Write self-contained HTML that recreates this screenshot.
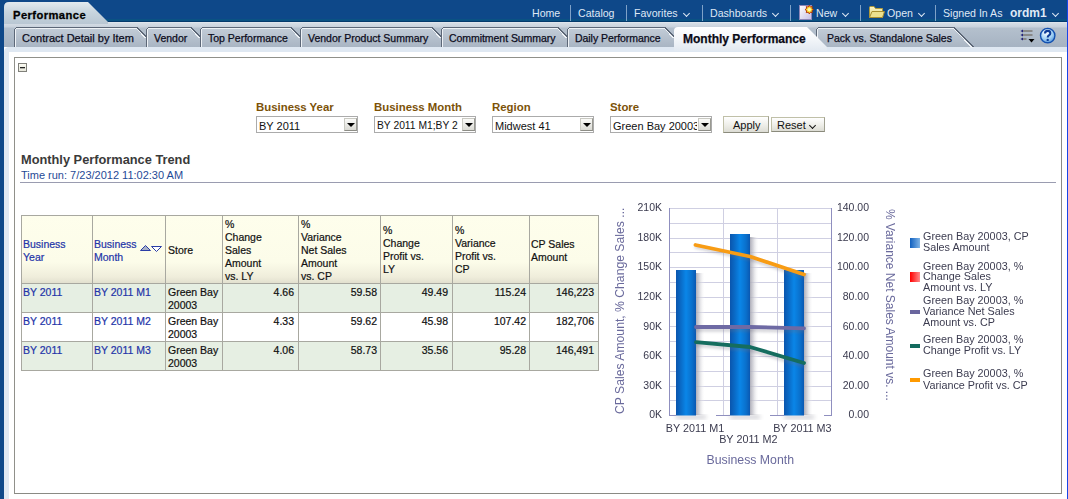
<!DOCTYPE html>
<html><head><meta charset="utf-8">
<style>
*{margin:0;padding:0;box-sizing:border-box}
html,body{width:1068px;height:499px;overflow:hidden;background:#fff;font-family:"Liberation Sans",sans-serif;font-size:12px;color:#000}
.a{position:absolute;white-space:nowrap}
#hdr{position:absolute;left:0;top:0;width:1068px;height:22px;background:linear-gradient(#0e4889 0,#0e4889 19px,#0a5283 19px,#0a5283 21px);border-bottom:1px solid #043a6c}
#lstrip{position:absolute;left:0;top:0;width:4px;height:499px;background:#0e4889}
#rstrip{position:absolute;left:1067px;top:0;width:1px;height:499px;background:#1846e8}
#tabrow{position:absolute;left:4px;top:22px;width:1063px;height:25px;background:linear-gradient(#e6ecf2 0,#d6dee6 1px,#c9d2dc 5px,#b4c0cd 6px,#a6b3c2 25px)}
#lightband{position:absolute;left:4px;top:47px;width:1063px;height:452px;background:#dfe8f2;border-top-left-radius:5px}
#content{position:absolute;left:9px;top:52px;width:1058px;height:447px;background:#fff}
#panel{position:absolute;left:14px;top:57px;width:1048px;height:437px;border:1px solid #90908a;border-right-color:#8a8a84;border-bottom-color:#8a8a84}
.nav{color:#dfe9f5;font-size:10.6px;top:7px}
.nav b{font-size:12px}
.chev{display:inline-block;width:5px;height:5px;border-right:1.4px solid #dfe9f5;border-bottom:1.4px solid #dfe9f5;transform:translateY(-1px) rotate(45deg);margin-left:6px}
.sep{position:absolute;top:5px;width:1px;height:16px;background:#7fa2c8}
.tt{position:absolute;top:32px;color:#0c0c1c;font-size:11px;white-space:nowrap;-webkit-text-stroke:0.25px #0c0c1c}
.lbl{color:#7c5208;font-weight:bold;font-size:11.4px}
.sel{position:absolute;height:17px;border:1px solid #ababab;background:#fff;font-size:11px;top:116px;overflow:hidden}
.sel span{position:absolute;left:2px;top:2px;line-height:14px;color:#111;white-space:nowrap;width:84px;overflow:hidden}
.sel i{position:absolute;right:0px;top:1px;width:13px;height:13px;background:linear-gradient(#fbfbf9,#dadad4);border:1px solid #c9c9c2;border-right-color:#9a9a92;border-bottom-color:#8d8d86}
.sel i:after{content:"";position:absolute;left:2px;top:4px;border-left:4px solid transparent;border-right:4px solid transparent;border-top:4px solid #000}
.btn{position:absolute;height:16px;border:1px solid #c0c0a8;border-bottom-color:#8a8a7c;border-right-color:#a0a090;background:linear-gradient(#ffffff,#ecece6 60%,#dcdcd4);font-size:11px;color:#111}
.tc{position:absolute;font-size:10.5px;line-height:13px;white-space:nowrap;color:#111;-webkit-text-stroke:0.2px}
.lk{color:#2334a8}
.r{text-align:right}
.gl{position:absolute;background:#a8a8a0}
.ct{position:absolute;font-family:"Liberation Sans",sans-serif;white-space:nowrap}
</style></head><body>
<div id="hdr"></div>
<div id="tabrow"></div>
<div id="lightband"></div>
<div id="content"></div>
<div id="lstrip"></div>
<div id="rstrip"></div>

<!-- Performance header tab -->
<svg class="a" style="left:4px;top:2px" width="106" height="22">
<defs><linearGradient id="pt" x1="0" y1="0" x2="0" y2="1"><stop offset="0" stop-color="#e2eaef"/><stop offset="0.45" stop-color="#c8d5de"/><stop offset="1" stop-color="#b9c7d3"/></linearGradient></defs>
<path d="M0,22 L0,5 Q0,0 5,0 L84,0 L104,20 L104,22 Z" fill="url(#pt)"/>
</svg>
<div class="a" style="left:13px;top:8.5px;font-weight:bold;font-size:11.2px;letter-spacing:0.42px;color:#000;-webkit-text-stroke:0.3px #000">Performance</div>

<!-- nav -->
<div class="a nav" style="left:532px">Home</div>
<div class="sep" style="left:570px"></div>
<div class="a nav" style="left:578px">Catalog</div>
<div class="sep" style="left:626px"></div>
<div class="a nav" style="left:634px">Favorites<span class="chev"></span></div>
<div class="sep" style="left:702px"></div>
<div class="a nav" style="left:710px">Dashboards<span class="chev"></span></div>
<div class="sep" style="left:790px"></div>
<svg class="a" style="left:798px;top:4px" width="17" height="17">
<defs><linearGradient id="pg" x1="0" y1="0" x2="1" y2="1"><stop offset="0" stop-color="#ffffff"/><stop offset="1" stop-color="#c4bee6"/></linearGradient></defs>
<rect x="1.5" y="1.5" width="12" height="14" fill="url(#pg)" stroke="#8c86b8"/>
<polygon points="11.30,1.30 10.23,3.01 8.26,2.56 8.71,4.53 7.00,5.60 8.71,6.67 8.26,8.64 10.23,8.19 11.30,9.90 12.37,8.19 14.34,8.64 13.89,6.67 15.60,5.60 13.89,4.53 14.34,2.56 12.37,3.01" fill="#ffe23a" stroke="#b02c00" stroke-width="0.9" stroke-linejoin="round"/>
<circle cx="11.3" cy="5.6" r="1.7" fill="#fffbb0"/>
</svg>
<div class="a nav" style="left:816px">New<span class="chev"></span></div>
<div class="sep" style="left:860px"></div>
<svg class="a" style="left:869px;top:5px" width="17" height="14">
<defs><linearGradient id="fg" x1="0" y1="0" x2="0" y2="1"><stop offset="0" stop-color="#fbf6c8"/><stop offset="1" stop-color="#e2d27a"/></linearGradient></defs>
<path d="M0.5,2.5 Q0.5,1.5 1.5,1.5 L5,1.5 L6.5,3.5 L13.5,3.5 L13.5,12.5 L0.5,12.5 Z" fill="url(#fg)" stroke="#b09a3a"/>
<path d="M3,6.5 L15.5,6.5 L13.5,12.5 L0.5,12.5 Z" fill="#ece08e" stroke="#a88f30"/>
</svg>
<div class="a nav" style="left:887px">Open<span class="chev"></span></div>
<div class="sep" style="left:935px"></div>
<div class="a nav" style="left:943px">Signed In As</div>
<div class="a nav" style="left:1010px;top:6px"><b>ordm1</b><span class="chev" style="margin-left:6px"></span></div>

<!-- tabs -->
<svg class="a" style="left:0;top:0" width="1068" height="52">
<defs>
<linearGradient id="tg" x1="0" y1="0" x2="0" y2="1"><stop offset="0" stop-color="#c3cdd8"/><stop offset="1" stop-color="#a9b5c3"/></linearGradient>
<linearGradient id="ag" x1="0" y1="0" x2="0" y2="1"><stop offset="0" stop-color="#ffffff"/><stop offset="0.5" stop-color="#f3f6f9"/><stop offset="1" stop-color="#e2e9f1"/></linearGradient>
</defs>
<g fill="url(#tg)">
<path d="M14.5,47 L14.5,30.5 Q14.5,27.5 17.5,27.5 L137,27.5 L146.5,37 L146.5,47 Z" stroke="none"/>
<path d="M146.5,47 L146.5,30.5 Q146.5,27.5 149.5,27.5 L191,27.5 L200.5,37 L200.5,47 Z" stroke="none"/>
<path d="M200.5,47 L200.5,30.5 Q200.5,27.5 203.5,27.5 L291,27.5 L300.5,37 L300.5,47 Z" stroke="none"/>
<path d="M300.5,47 L300.5,30.5 Q300.5,27.5 303.5,27.5 L432,27.5 L441.5,37 L441.5,47 Z" stroke="none"/>
<path d="M441.5,47 L441.5,30.5 Q441.5,27.5 444.5,27.5 L558,27.5 L567.5,37 L567.5,47 Z" stroke="none"/>
<path d="M567.5,47 L567.5,30.5 Q567.5,27.5 570.5,27.5 L665,27.5 L674.5,37 L674.5,47 Z" stroke="none"/>
<path d="M816.5,47 L816.5,30.5 Q816.5,27.5 819.5,27.5 L954,27.5 L973.5,47 Z"/>
</g>
<g fill="none" stroke="#eef2f6" stroke-width="1" shape-rendering="crispEdges">
<path d="M15.5,47 L15.5,30.5 Q15.5,28.5 17.5,28.5 L136.5,28.5 L145.5,38"/>
<path d="M147.5,47 L147.5,30.5 Q147.5,28.5 149.5,28.5 L190.5,28.5 L199.5,38"/>
<path d="M201.5,47 L201.5,30.5 Q201.5,28.5 203.5,28.5 L290.5,28.5 L299.5,38"/>
<path d="M301.5,47 L301.5,30.5 Q301.5,28.5 303.5,28.5 L431.5,28.5 L440.5,38"/>
<path d="M442.5,47 L442.5,30.5 Q442.5,28.5 444.5,28.5 L557.5,28.5 L566.5,38"/>
<path d="M568.5,47 L568.5,30.5 Q568.5,28.5 570.5,28.5 L664.5,28.5 L673.5,38"/>
<path d="M817.5,47 L817.5,30.5 Q817.5,28.5 819.5,28.5 L953.5,28.5 L972.5,48"/>
</g>
<g fill="none" stroke="#5c6777" stroke-width="1" shape-rendering="crispEdges">
<path d="M14.5,47 L14.5,30.5 Q14.5,27.5 17.5,27.5 L137,27.5 L146.5,37"/>
<path d="M146.5,47 L146.5,30.5 Q146.5,27.5 149.5,27.5 L191,27.5 L200.5,37"/>
<path d="M200.5,47 L200.5,30.5 Q200.5,27.5 203.5,27.5 L291,27.5 L300.5,37"/>
<path d="M300.5,47 L300.5,30.5 Q300.5,27.5 303.5,27.5 L432,27.5 L441.5,37"/>
<path d="M441.5,47 L441.5,30.5 Q441.5,27.5 444.5,27.5 L558,27.5 L567.5,37"/>
<path d="M567.5,47 L567.5,30.5 Q567.5,27.5 570.5,27.5 L665,27.5 L674.5,37"/>
<path d="M816.5,47 L816.5,30.5 Q816.5,27.5 819.5,27.5 L954,27.5 L973.5,47"/>
</g>
<path d="M674,51 L674,31 Q674,27 678,27 L807,27 L827,47 L827,51 Z" fill="url(#ag)"/>
</svg>
<div class="tt" style="left:22px">Contract Detail by Item</div>
<div class="tt" style="left:154px;font-size:10.5px">Vendor</div>
<div class="tt" style="left:208px;font-size:10.5px">Top Performance</div>
<div class="tt" style="left:308px;font-size:10.5px">Vendor Product Summary</div>
<div class="tt" style="left:449px;font-size:10.5px;letter-spacing:-0.05px">Commitment Summary</div>
<div class="tt" style="left:575px;font-size:10.5px;letter-spacing:-0.05px">Daily Performance</div>
<div class="tt" style="left:683px;top:32px;font-weight:bold;font-size:12px;color:#0a0a14">Monthly Performance</div>
<div class="tt" style="left:827px;font-size:10.5px">Pack vs. Standalone Sales</div>

<!-- tab row icons -->
<svg class="a" style="left:1019px;top:28px" width="18" height="16">
<g stroke="#77736e" stroke-width="1.4"><line x1="4" y1="3" x2="13.5" y2="3"/><line x1="4" y1="7" x2="13.5" y2="7"/><line x1="4" y1="11" x2="7.5" y2="11"/></g>
<g fill="#22227a"><path d="M1.5,3 L4,1.5 L4,4.5 Z"/><path d="M1.5,7 L4,5.5 L4,8.5 Z"/><path d="M1.5,11 L4,9.5 L4,12.5 Z"/></g>
<path d="M9.5,11 L15.5,11 L12.5,14.5 Z" fill="#000"/>
</svg>
<svg class="a" style="left:1039px;top:27px" width="18" height="18">
<defs><radialGradient id="hg" cx="0.4" cy="0.3" r="0.75"><stop offset="0" stop-color="#ffffff"/><stop offset="0.55" stop-color="#a6d4f6"/><stop offset="1" stop-color="#5596da"/></radialGradient></defs>
<circle cx="8.7" cy="8.6" r="7.2" fill="url(#hg)" stroke="#1250b0" stroke-width="1.4"/>
<path d="M6,6.6 Q6,3.9 8.7,3.9 Q11.3,3.9 11.3,6.2 Q11.3,7.6 9.9,8.4 Q8.7,9.1 8.7,10.4" fill="none" stroke="#0d3c98" stroke-width="2.1"/>
<circle cx="8.7" cy="12.9" r="1.2" fill="#0d3c98"/>
</svg>

<div id="panel"></div>
<svg class="a" style="left:18px;top:63px" width="10" height="10">
<defs><linearGradient id="cg" x1="0" y1="0" x2="0" y2="1"><stop offset="0" stop-color="#fbfbf3"/><stop offset="1" stop-color="#e6e6da"/></linearGradient></defs>
<rect x="0.5" y="0.5" width="8" height="8" fill="url(#cg)" stroke="#80807a"/>
<rect x="2" y="4" width="5" height="1.3" fill="#222"/>
</svg>

<!-- filters -->
<div class="a lbl" style="left:256px;top:101px">Business Year</div>
<div class="sel" style="left:256px;width:102px"><span>BY 2011</span><i></i></div>
<div class="a lbl" style="left:374px;top:101px">Business Month</div>
<div class="sel" style="left:374px;width:102px"><span style="font-size:10.3px">BY 2011 M1;BY 2</span><i></i></div>
<div class="a lbl" style="left:492px;top:101px">Region</div>
<div class="sel" style="left:492px;width:102px"><span>Midwest 41</span><i></i></div>
<div class="a lbl" style="left:610px;top:101px">Store</div>
<div class="sel" style="left:610px;width:102px"><span>Green Bay 20003</span><i></i></div>
<div class="btn" style="left:723px;top:116px;width:46px;height:17px"><span class="a" style="left:9px;top:2px">Apply</span></div>
<div class="btn" style="left:771px;top:117px;width:54px;height:15px"><span class="a" style="left:5px;top:1px">Reset</span><span class="a" style="left:38px;top:5px;width:5px;height:5px;border-right:1px solid #111;border-bottom:1px solid #111;transform:rotate(45deg)"></span></div>

<div class="a" style="left:21px;top:152px;font-weight:bold;font-size:12.8px;color:#3a3a3a">Monthly Performance Trend</div>
<div class="a" style="left:21px;top:169px;font-size:11px;color:#1f4a96">Time run: 7/23/2012 11:02:30 AM</div>
<div class="a" style="left:20px;top:182px;width:1036px;height:1px;background:#9a9cb0"></div>

<!-- table -->
<div class="a" style="left:21px;top:215px;width:578px;height:68px;background:linear-gradient(#fefeec 0,#fcfce9 47px,#efeddb 62px,#e2e0cf 68px)"></div>
<div class="a" style="left:21px;top:283px;width:578px;height:29px;background:#e6efe3"></div>
<div class="a" style="left:21px;top:341px;width:578px;height:29px;background:#e6efe3"></div>
<div class="gl" style="left:21px;top:215px;width:578px;height:1px"></div>
<div class="gl" style="left:21px;top:283px;width:578px;height:1px"></div>
<div class="gl" style="left:21px;top:312px;width:578px;height:1px"></div>
<div class="gl" style="left:21px;top:341px;width:578px;height:1px"></div>
<div class="gl" style="left:21px;top:370px;width:578px;height:1px"></div>
<div class="gl" style="left:21px;top:215px;width:1px;height:156px"></div>
<div class="gl" style="left:92px;top:215px;width:1px;height:156px"></div>
<div class="gl" style="left:165px;top:215px;width:1px;height:156px"></div>
<div class="gl" style="left:222px;top:215px;width:1px;height:156px"></div>
<div class="gl" style="left:298px;top:215px;width:1px;height:156px"></div>
<div class="gl" style="left:380px;top:215px;width:1px;height:156px"></div>
<div class="gl" style="left:452px;top:215px;width:1px;height:156px"></div>
<div class="gl" style="left:529px;top:215px;width:1px;height:156px"></div>
<div class="gl" style="left:598px;top:215px;width:1px;height:156px"></div>

<div class="tc lk" style="left:23px;top:238px">Business<br>Year</div>
<div class="tc lk" style="left:94px;top:238px">Business<br>Month</div>
<svg class="a" style="left:139px;top:245px" width="24" height="9">
<path d="M1.5,5.5 L6.5,0.5 L11.5,5.5 Z" fill="#a8b0c8" stroke="#2a3da6"/>
<path d="M12.5,1.5 L22.5,1.5 L17.5,6.5 Z" fill="#fff" stroke="#2a3da6"/>
</svg>
<div class="tc" style="left:168px;top:244px">Store</div>
<div class="tc" style="left:225px;top:218px">%<br>Change<br>Sales<br>Amount<br>vs. LY</div>
<div class="tc" style="left:301px;top:218px">%<br>Variance<br>Net Sales<br>Amount<br>vs. CP</div>
<div class="tc" style="left:383px;top:224px">%<br>Change<br>Profit vs.<br>LY</div>
<div class="tc" style="left:455px;top:224px">%<br>Variance<br>Profit vs.<br>CP</div>
<div class="tc" style="left:531px;top:238px">CP Sales<br>Amount</div>

<div class="tc lk" style="left:23px;top:286px">BY 2011</div>
<div class="tc lk" style="left:94px;top:286px">BY 2011 M1</div>
<div class="tc" style="left:168px;top:286px">Green Bay<br>20003</div>
<div class="tc r" style="left:222px;top:286px;width:72px">4.66</div>
<div class="tc r" style="left:298px;top:286px;width:79px">59.58</div>
<div class="tc r" style="left:380px;top:286px;width:68px">49.49</div>
<div class="tc r" style="left:452px;top:286px;width:74px">115.24</div>
<div class="tc r" style="left:529px;top:286px;width:65px">146,223</div>

<div class="tc lk" style="left:23px;top:315px">BY 2011</div>
<div class="tc lk" style="left:94px;top:315px">BY 2011 M2</div>
<div class="tc" style="left:168px;top:315px">Green Bay<br>20003</div>
<div class="tc r" style="left:222px;top:315px;width:72px">4.33</div>
<div class="tc r" style="left:298px;top:315px;width:79px">59.62</div>
<div class="tc r" style="left:380px;top:315px;width:68px">45.98</div>
<div class="tc r" style="left:452px;top:315px;width:74px">107.42</div>
<div class="tc r" style="left:529px;top:315px;width:65px">182,706</div>

<div class="tc lk" style="left:23px;top:344px">BY 2011</div>
<div class="tc lk" style="left:94px;top:344px">BY 2011 M3</div>
<div class="tc" style="left:168px;top:344px">Green Bay<br>20003</div>
<div class="tc r" style="left:222px;top:344px;width:72px">4.06</div>
<div class="tc r" style="left:298px;top:344px;width:79px">58.73</div>
<div class="tc r" style="left:380px;top:344px;width:68px">35.56</div>
<div class="tc r" style="left:452px;top:344px;width:74px">95.28</div>
<div class="tc r" style="left:529px;top:344px;width:65px">146,491</div>

<!-- CHART -->
<svg class="a" style="left:0;top:0;will-change:transform" width="1068" height="499" font-family="Liberation Sans">
<defs>
<linearGradient id="bar" x1="0" y1="0" x2="1" y2="0">
<stop offset="0" stop-color="#0a55ad"/><stop offset="0.25" stop-color="#0a6cc8"/><stop offset="0.5" stop-color="#0a86e8"/><stop offset="0.8" stop-color="#0a70cc"/><stop offset="1" stop-color="#0a58b2"/>
</linearGradient>
<linearGradient id="shd" x1="0" y1="0" x2="1" y2="0">
<stop offset="0" stop-color="#a4a4b0" stop-opacity="0.9"/><stop offset="0.35" stop-color="#c4c4cc" stop-opacity="0.7"/><stop offset="1" stop-color="#ffffff" stop-opacity="0"/>
</linearGradient>
<linearGradient id="lgb" x1="0" y1="0" x2="1" y2="0"><stop offset="0" stop-color="#1060c0"/><stop offset="1" stop-color="#80b4e6"/></linearGradient>
<linearGradient id="lgr" x1="0" y1="0" x2="1" y2="0"><stop offset="0" stop-color="#ff0000"/><stop offset="1" stop-color="#ff8c8c"/></linearGradient>
<filter id="blur" x="-50%" y="-50%" width="200%" height="200%"><feGaussianBlur stdDeviation="1.5"/></filter>
<filter id="blur2" x="-100%" y="-20%" width="300%" height="140%"><feGaussianBlur stdDeviation="2"/></filter>
</defs>
<!-- gridlines -->
<g stroke="#cfcfe2" stroke-width="1">
<line x1="669" y1="208.5" x2="831" y2="208.5"/>
<line x1="669" y1="223.5" x2="831" y2="223.5"/>
<line x1="669" y1="238.5" x2="831" y2="238.5"/>
<line x1="669" y1="252.5" x2="831" y2="252.5"/>
<line x1="669" y1="267.5" x2="831" y2="267.5"/>
<line x1="669" y1="282.5" x2="831" y2="282.5"/>
<line x1="669" y1="297.5" x2="831" y2="297.5"/>
<line x1="669" y1="312.5" x2="831" y2="312.5"/>
<line x1="669" y1="326.5" x2="831" y2="326.5"/>
<line x1="669" y1="341.5" x2="831" y2="341.5"/>
<line x1="669" y1="356.5" x2="831" y2="356.5"/>
<line x1="669" y1="371.5" x2="831" y2="371.5"/>
<line x1="669" y1="386.5" x2="831" y2="386.5"/>
<line x1="669" y1="400.5" x2="831" y2="400.5"/>
<line x1="723.5" y1="208" x2="723.5" y2="415"/>
<line x1="777.5" y1="208" x2="777.5" y2="415"/>
</g>
<g stroke="#8f8fbf" stroke-width="1">
<line x1="669.5" y1="208" x2="669.5" y2="416"/>
<line x1="831.5" y1="208" x2="831.5" y2="416"/>
<line x1="669" y1="415.5" x2="676" y2="415.5"/>
<line x1="716" y1="415.5" x2="730" y2="415.5"/>
<line x1="770" y1="415.5" x2="784" y2="415.5"/>
<line x1="824" y1="415.5" x2="832" y2="415.5"/>
</g>
<!-- bar shadows -->
<g fill="url(#shd)">
<rect x="696" y="273" width="9" height="142"/>
<rect x="750" y="237" width="9" height="178"/>
<rect x="804" y="273" width="9" height="142"/>
</g>
<g filter="url(#blur2)" fill="#9a9aa6" opacity="0.45">
<rect x="676" y="415" width="30" height="4"/>
<rect x="730" y="415" width="30" height="4"/>
<rect x="784" y="415" width="30" height="4"/>
</g>
<rect x="670" y="415" width="160" height="0" fill="#fff"/>
<rect x="676" y="270" width="20" height="145.5" fill="url(#bar)"/>
<rect x="730" y="234" width="20" height="181.5" fill="url(#bar)"/>
<rect x="784" y="270" width="20" height="145.5" fill="url(#bar)"/>
<!-- line shadows -->
<g fill="none" stroke="#707080" stroke-width="3" opacity="0.35" filter="url(#blur)" stroke-linecap="round" stroke-linejoin="round">
<polyline points="696,247 750,259 804,277"/>
<polyline points="696,330 750,330 804,331"/>
<polyline points="696,345 750,350 804,366"/>
</g>
<g fill="none" stroke-width="3.8" stroke-linecap="round" stroke-linejoin="round">
<polyline points="696,327 750,327 804,328.3" stroke="#6e6aa4"/>
<polyline points="696,342.2 750,347 804,363" stroke="#156d5f"/>
<polyline points="695.5,245 750,256.5 804,274.5" stroke="#f89c14"/>
</g>
<!-- left labels -->
<g font-size="10.5" fill="#3a3a4e" text-anchor="end">
<text x="662" y="211.3">210K</text>
<text x="662" y="240.9">180K</text>
<text x="662" y="270.4">150K</text>
<text x="662" y="300.0">120K</text>
<text x="662" y="329.6">90K</text>
<text x="662" y="359.1">60K</text>
<text x="662" y="388.7">30K</text>
<text x="662" y="418.3">0K</text>
</g>
<g font-size="10.5" fill="#3a3a4e" text-anchor="end">
<text x="869" y="211.3">140.00</text>
<text x="869" y="240.9">120.00</text>
<text x="869" y="270.4">100.00</text>
<text x="869" y="300.0">80.00</text>
<text x="869" y="329.6">60.00</text>
<text x="869" y="359.1">40.00</text>
<text x="869" y="388.7">20.00</text>
<text x="869" y="418.3">0.00</text>
</g>
<text transform="translate(623.5,414) rotate(-90)" font-size="12.2" fill="#6a6a9c">CP Sales Amount, % Change Sales ...</text>
<text transform="translate(886,209) rotate(90)" font-size="12" fill="#6a6a9c">% Variance Net Sales Amount vs. ...</text>
<g font-size="10.8" fill="#3a3a4e" text-anchor="middle">
<text x="695" y="431.7">BY 2011 M1</text>
<text x="748.4" y="442.7">BY 2011 M2</text>
<text x="802.4" y="431.7">BY 2011 M3</text>
</g>
<text x="750.3" y="463.6" font-size="12.3" fill="#6a6a9c" text-anchor="middle">Business Month</text>
<!-- legend -->
<rect x="910" y="238" width="10" height="10" fill="url(#lgb)"/>
<rect x="910" y="272" width="10" height="10" fill="url(#lgr)"/>
<rect x="910" y="310" width="10" height="4" fill="#6a669e"/>
<rect x="910" y="344" width="10" height="4" fill="#136b5e"/>
<rect x="910" y="378" width="10" height="4" fill="#ff9a00"/>
<g font-size="10.8" fill="#3c3c50">
<text x="923" y="239.7">Green Bay 20003, CP</text>
<text x="923" y="250.7">Sales Amount</text>
<text x="923" y="269.6">Green Bay 20003, %</text>
<text x="923" y="280.3">Change Sales</text>
<text x="923" y="291">Amount vs. LY</text>
<text x="923" y="303.7">Green Bay 20003, %</text>
<text x="923" y="314.8">Variance Net Sales</text>
<text x="923" y="325.8">Amount vs. CP</text>
<text x="923" y="342.6">Green Bay 20003, %</text>
<text x="923" y="353.8">Change Profit vs. LY</text>
<text x="923" y="377.4">Green Bay 20003, %</text>
<text x="923" y="388.5">Variance Profit vs. CP</text>
</g>
</svg>

</body></html>
